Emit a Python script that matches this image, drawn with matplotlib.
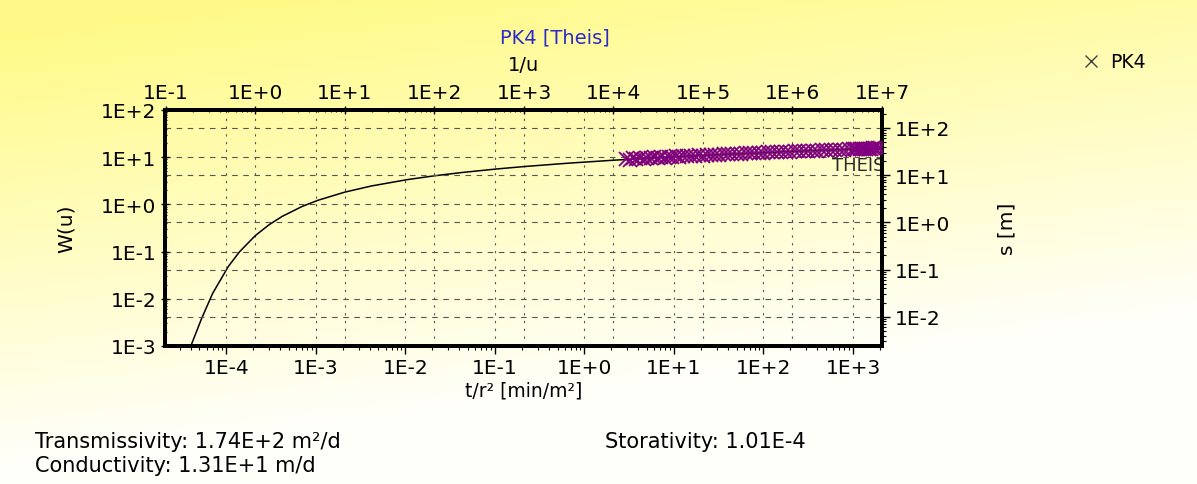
import numpy as np
import matplotlib
matplotlib.use('Agg')
import matplotlib.pyplot as plt
from matplotlib.ticker import FixedLocator, LogLocator, FuncFormatter, NullFormatter
from matplotlib.lines import Line2D

plt.rcParams['font.family'] = ['DejaVu Sans']

# Theis type curve (1/u, W(u))
inv_u = [0.19, 0.25, 0.333, 0.5, 0.667, 1.0, 1.43, 2.0, 3.33, 5.0, 10.0, 20.0,
         50.0, 100.0, 200.0, 500.0, 1000.0, 3000.0, 1e4, 3e4, 1e5, 1e6, 1e7]
W_u = [0.001, 0.00378, 0.01305, 0.0489, 0.100, 0.2194, 0.3738, 0.5598, 0.9057,
       1.2227, 1.8229, 2.4679, 3.3547, 4.0379, 4.7261, 5.6394, 6.3315, 7.43,
       8.633, 9.73, 10.94, 13.24, 15.54]

# measured data PK4 (t/r2 [min/m2], s [m])
t_r2 = [2.9, 3.2, 3.5, 3.8, 4.2, 4.6, 5.0, 5.5, 6.0, 6.6, 7.2, 8.0, 8.8, 9.6,
        10.5, 11.5, 12.6, 14, 15.5, 17, 19, 21, 23.5, 26, 29, 32, 36, 40, 45,
        50, 56, 63, 70, 79, 88, 100, 112, 126, 141, 158, 178, 200, 224, 251,
        282, 316, 355, 398, 447, 501, 562, 631, 708, 794, 891, 1000, 1060,
        1120, 1190, 1260, 1330, 1410, 1500, 1590, 1680, 1780, 1880, 2000]
s_m = [22.4, 21.2, 23.1, 21.8, 23.0, 22.1, 23.5, 22.6, 24.0, 23.1, 24.3, 23.5,
       24.7, 24.0, 25.1, 24.5, 25.4, 25.0, 26.0, 25.4, 26.4, 26.0, 26.9, 26.6,
       27.3, 27.0, 27.8, 27.7, 28.2, 28.3, 28.7, 28.9, 29.2, 29.4, 29.7, 30.0,
       30.3, 30.6, 30.8, 31.1, 31.4, 31.7, 31.9, 32.2, 32.5, 32.8, 33.0, 33.3,
       33.6, 33.9, 34.1, 34.4, 34.7, 35.0, 35.3, 35.5, 35.7, 35.8, 35.9, 36.1,
       36.2, 36.4, 36.5, 36.6, 36.8, 36.9, 37.0, 37.2]

# tick positions of the four axes
top_ticks = [1e-1, 1e0, 1e1, 1e2, 1e3, 1e4, 1e5, 1e6, 1e7]
bottom_ticks = [1e-4, 1e-3, 1e-2, 1e-1, 1e0, 1e1, 1e2, 1e3]
left_ticks = [1e-3, 1e-2, 1e-1, 1e0, 1e1, 1e2]
right_ticks = [1e-2, 1e-1, 1e0, 1e1, 1e2]

x_shift = 10 ** 3.676   # 1/u per t/r2
y_shift = 10 ** 0.381   # s per W(u)

fig = plt.figure(figsize=(11.97, 4.85), dpi=100)

# pale yellow -> white background
bg = fig.add_axes([0, 0, 1, 1], zorder=-10)
yy, xx = np.mgrid[0:485, 0:1197]
w = np.clip(1.08 - yy / 430.0 - xx / 1197.0 * 0.35, 0, 1)
yellow = np.array([255, 250, 135]) / 255.0
white = np.array([255, 255, 250]) / 255.0
img = white[None, None, :] * (1 - w[..., None]) + yellow[None, None, :] * w[..., None]
bg.imshow(img, aspect='auto')
bg.axis('off')

pos = [165 / 1197, 1 - 347 / 485, 717 / 1197, 236 / 485]
ax = fig.add_axes(pos)
ax.set_facecolor('none')
ax.set_xscale('log')
ax.set_yscale('log')
ax.set_xlim(10 ** -1.01, 10 ** 7.0)
ax.set_ylim(1e-3, 1e2)

ax2 = fig.add_axes(pos)
ax2.set_facecolor('none')
ax2.set_xscale('log')
ax2.set_yscale('log')
ax2.set_xlim(10 ** -1.01 / x_shift, 10 ** 7.0 / x_shift)
ax2.set_ylim(1e-3 * y_shift, 1e2 * y_shift)

ax.xaxis.set_major_locator(FixedLocator(top_ticks))
ax.yaxis.set_major_locator(FixedLocator(left_ticks))
ax2.xaxis.set_major_locator(FixedLocator(bottom_ticks))
ax2.yaxis.set_major_locator(FixedLocator(right_ticks))

fmt = FuncFormatter(lambda v, p: '1E%+d' % int(round(np.log10(v))))
for a in (ax, ax2):
    a.xaxis.set_minor_locator(LogLocator(base=10, subs=np.arange(2, 10), numticks=20))
    a.yaxis.set_minor_locator(LogLocator(base=10, subs=np.arange(2, 10), numticks=20))
    a.xaxis.set_major_formatter(fmt)
    a.yaxis.set_major_formatter(fmt)
    a.xaxis.set_minor_formatter(NullFormatter())
    a.yaxis.set_minor_formatter(NullFormatter())
    a.grid(True, which='major', axis='x', color='#555555', lw=0.8, ls=(0, (2, 5)))
    a.grid(True, which='major', axis='y', color='#555555', lw=0.8, ls=(0, (5, 5)))
    a.tick_params(which='major', length=6, width=1, labelsize=14.5, pad=3)
    a.tick_params(which='minor', length=3, width=0.8)
    for sp in a.spines.values():
        sp.set_linewidth(2.8)

ax.xaxis.tick_top()
ax.xaxis.set_label_position('top')
ax.tick_params(axis='both', which='both', direction='inout')
ax.tick_params(axis='x', which='both', bottom=False, labelbottom=False)
ax.tick_params(axis='y', which='both', right=False, labelright=False)

ax2.yaxis.tick_right()
ax2.yaxis.set_label_position('right')
ax2.tick_params(axis='both', which='both', direction='out')
ax2.tick_params(axis='x', which='both', top=False, labeltop=False)
ax2.tick_params(axis='y', which='both', left=False, labelleft=False)

ax.plot(inv_u, W_u, color='black', lw=1.1, zorder=3)
ax.annotate('THEIS', xy=(inv_u[-1], W_u[-1]), xytext=(2, -6), textcoords='offset points',
            ha='right', va='top', fontsize=13, color='#2a2a2a', zorder=4)

ax2.plot(t_r2, s_m, ls='none', marker='x', ms=10, mew=1.3, color='#800080', zorder=5)

ax.set_xlabel('1/u', fontsize=14, labelpad=9)
ax.set_ylabel('W(u)', fontsize=14.5, labelpad=18)
ax2.set_xlabel('t/r\u00b2 [min/m\u00b2]', fontsize=13.5, labelpad=2)
ax2.set_ylabel('s [m]', fontsize=14.5, rotation=90, labelpad=34)

fig.text(555 / 1197, 1 - 38 / 485, 'PK4 [Theis]', color='#2b2bc8', fontsize=14,
         ha='center', va='center')

fig.legend(handles=[Line2D([], [], ls='none', marker='x', ms=9, mew=1, color='#444444')],
           labels=['PK4'], loc='center left', bbox_to_anchor=(1065 / 1197, 1 - 63 / 485),
           frameon=False, fontsize=13.5, handlelength=1.0, handletextpad=0.5)

fig.text(35 / 1197, 1 - 442 / 485, 'Transmissivity: 1.74E+2 m\u00b2/d', fontsize=15,
         ha='left', va='center')
fig.text(35 / 1197, 1 - 466 / 485, 'Conductivity: 1.31E+1 m/d', fontsize=15,
         ha='left', va='center')
fig.text(605 / 1197, 1 - 442 / 485, 'Storativity: 1.01E-4', fontsize=15,
         ha='left', va='center')

fig.savefig('out.png', dpi=100)
